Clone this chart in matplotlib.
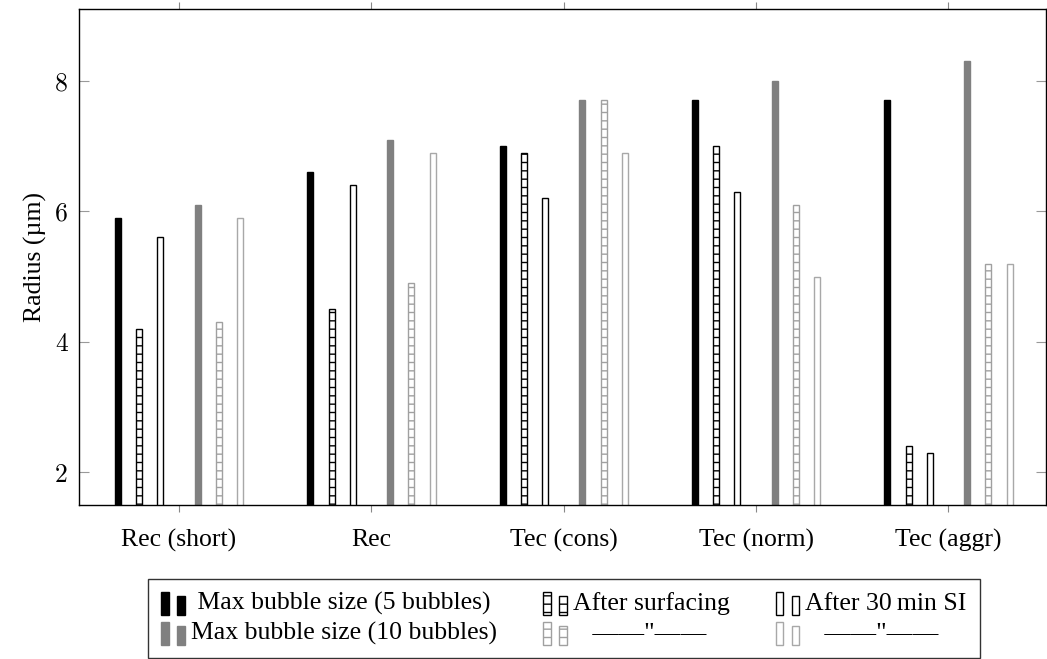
import numpy as np
import matplotlib
matplotlib.use("Agg")
import matplotlib.pyplot as plt
from matplotlib.patches import Rectangle
from matplotlib.legend_handler import HandlerBase

plt.rcParams["font.family"] = ["Liberation Serif", "DejaVu Serif"]
plt.rcParams["hatch.linewidth"] = 1.0

categories = ["Rec (short)", "Rec", "Tec (cons)", "Tec (norm)", "Tec (aggr)"]
max5 = [5.9, 6.6, 7.0, 7.7, 7.7]
surf5 = [4.2, 4.5, 6.9, 7.0, 2.4]
si5 = [5.6, 6.4, 6.2, 6.3, 2.3]
max10 = [6.1, 7.1, 7.7, 8.0, 8.3]
surf10 = [4.3, 4.9, 7.7, 6.1, 5.2]
si10 = [5.9, 6.9, 6.9, 5.0, 5.2]

series = [max5, surf5, si5, max10, surf10, si10]
ditto = "\u2002 \u2014\u2014\"\u2014\u2014"
labels = [" Max bubble size (5 bubbles)", "Max bubble size (10 bubbles)",
          "After surfacing", ditto,
          "After 30\u2009min SI", ditto]
# face, edge, hatch for each series
styles = [("black", "black", None),
          ("white", "black", "--"),
          ("white", "black", None),
          ("#808080", "#808080", None),
          ("white", "#a0a0a0", "--"),
          ("white", "#a8a8a8", None)]
offsets = [-0.318, -0.207, -0.097, 0.097, 0.207, 0.318]
width = 0.031
fs = 18.5

fig = plt.figure(figsize=(10.47, 6.59), dpi=100)
ax = fig.add_axes([0.0755, 0.2337, 0.9240, 0.7526])

x = np.arange(len(categories))
for vals, (fc, ec, h), off in zip(series, styles, offsets):
    ax.bar(x + off, vals, width, bottom=0, color=fc, edgecolor=ec,
           hatch=h, linewidth=1.0)

ax.set_xlim(-0.52, 4.51)
ax.set_ylim(1.5, 9.1)
ax.set_xticks(x)
ax.set_xticklabels(categories, fontsize=fs)
ax.set_yticks([2, 4, 6, 8])
ax.set_yticklabels(["2", "4", "6", "8"], fontsize=fs, fontfamily="cmr10")
ax.tick_params(axis="x", direction="out", top=True, length=5, color="#888888",
               pad=12)
ax.tick_params(axis="y", direction="in", right=True, length=7, color="#999999",
               pad=8)
ax.set_ylabel("Radius (\u00b5m)", fontsize=fs, labelpad=5.5)
for s in ax.spines.values():
    s.set_linewidth(1.0)


class BarPair(HandlerBase):
    def create_artists(self, legend, orig_handle, xdescent, ydescent,
                       width, height, fontsize, trans):
        fc, ec, h = orig_handle
        w = 5.5
        gap = 6.0
        y0 = -ydescent - 4
        r1 = Rectangle((-xdescent, y0), w, height + 4,
                       facecolor=fc, edgecolor=ec, hatch=h, lw=1.0,
                       transform=trans)
        r2 = Rectangle((-xdescent + w + gap, y0), w, height + 1,
                       facecolor=fc, edgecolor=ec, hatch=h, lw=1.0,
                       transform=trans)
        return [r1, r2]


order = [0, 3, 1, 4, 2, 5]
handles = [styles[i] for i in order]
leg = fig.legend(handles, labels, handler_map={tuple: BarPair()},
                 loc="upper center", bbox_to_anchor=(0.5387, 1 - 579 / 659),
                 borderaxespad=0,
                 ncol=3, fontsize=fs, frameon=True, fancybox=False,
                 edgecolor="black", handlelength=0.95, handletextpad=0.2,
                 columnspacing=1.8, labelspacing=0.26, borderpad=0.5)
leg.get_frame().set_linewidth(1.0)

fig.savefig("out.png", dpi=100)
